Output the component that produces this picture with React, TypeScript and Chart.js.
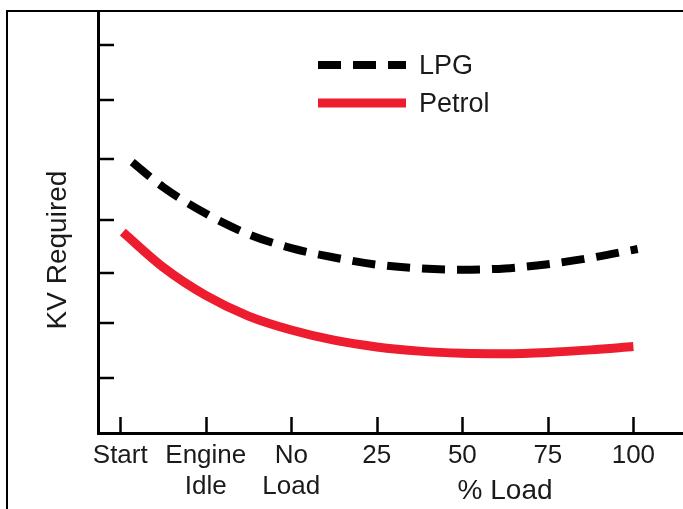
import React, { useEffect, useRef } from "react";
import { Chart, registerables } from "chart.js";

Chart.register(...registerables);

// ---- data ----
const xTickValues = [0, 1, 2, 3, 4, 5, 6];
const xTickLabels: (string | string[])[] = ["Start", ["Engine", "Idle"], ["No", "Load"], "25", "50", "75", "100"];
const yTickValues = [13, 26, 38, 50.5, 65, 79, 92];

const lpgX = [0.14, 0.5, 1.0, 1.5, 2.0, 2.5, 3.0, 3.5, 4.0, 4.5, 5.0, 5.5, 6.05];
const lpgY = [64.2, 58.3, 52.0, 47.1, 43.8, 41.6, 39.9, 39.0, 38.7, 39.0, 40.0, 41.5, 43.6];

const petrolX = [0.03, 0.5, 1.0, 1.5, 2.0, 2.5, 3.0, 3.5, 4.0, 4.5, 5.0, 5.5, 6.0];
const petrolY = [47.6, 39.3, 32.6, 27.7, 24.4, 22.0, 20.4, 19.4, 18.9, 18.8, 19.1, 19.7, 20.5];

const seriesNames = ["LPG", "Petrol"];
const xTitle = "% Load";
const yTitle = "KV Required";

const FONT = "'Liberation Sans', Arial, sans-serif";
const RED = "#ED1C2E";

const decorPlugin = {
  id: "decor",
  afterDraw(chart: any) {
    const { ctx, chartArea, scales } = chart;
    const xs = scales.x;
    const ys = scales.y;
    ctx.save();
    // inward tick marks
    ctx.strokeStyle = "#000";
    ctx.lineWidth = 2.5;
    xs.ticks.forEach((t: any) => {
      const px = Math.round(xs.getPixelForValue(t.value)) + 0.5;
      ctx.beginPath();
      ctx.moveTo(px, chartArea.bottom);
      ctx.lineTo(px, chartArea.bottom - 16);
      ctx.stroke();
    });
    ys.ticks.forEach((t: any) => {
      const py = Math.round(ys.getPixelForValue(t.value));
      ctx.beginPath();
      ctx.moveTo(chartArea.left, py);
      ctx.lineTo(chartArea.left + 16, py);
      ctx.stroke();
    });
    // axis titles
    ctx.fillStyle = "#1a1a1a";
    ctx.textAlign = "center";
    ctx.textBaseline = "middle";
    ctx.font = `28px ${FONT}`;
    ctx.fillText(xTitle, xs.getPixelForValue(4.5), 491);
    ctx.save();
    ctx.translate(58, 250);
    ctx.rotate(-Math.PI / 2);
    ctx.fillText(yTitle, 0, 0);
    ctx.restore();
    // legend
    ctx.lineCap = "butt";
    ctx.lineWidth = 8;
    ctx.strokeStyle = "#000";
    ctx.setLineDash([23, 12]);
    ctx.beginPath();
    ctx.moveTo(318, 65);
    ctx.lineTo(406, 65);
    ctx.stroke();
    ctx.setLineDash([]);
    ctx.strokeStyle = RED;
    ctx.lineWidth = 9;
    ctx.beginPath();
    ctx.moveTo(318, 103);
    ctx.lineTo(406, 103);
    ctx.stroke();
    ctx.textAlign = "left";
    ctx.fillStyle = "#1a1a1a";
    ctx.font = `27px ${FONT}`;
    ctx.fillText(seriesNames[0], 419, 67);
    ctx.fillText(seriesNames[1], 419, 105);
    ctx.restore();
  },
};

export default function App() {
  const ref = useRef<HTMLCanvasElement | null>(null);
  useEffect(() => {
    if (!ref.current) return;
    const chart = new Chart(ref.current, {
      type: "line",
      data: {
        datasets: [
          {
            label: seriesNames[0],
            data: lpgX.map((x, i) => ({ x, y: lpgY[i] })),
            borderColor: "#000",
            borderWidth: 8,
            borderDash: [23, 12],
            borderCapStyle: "butt",
            pointRadius: 0,
            cubicInterpolationMode: "monotone",
            fill: false,
          },
          {
            label: seriesNames[1],
            data: petrolX.map((x, i) => ({ x, y: petrolY[i] })),
            borderColor: RED,
            borderWidth: 9,
            borderCapStyle: "butt",
            pointRadius: 0,
            cubicInterpolationMode: "monotone",
            fill: false,
          },
        ],
      },
      options: {
        animation: false,
        responsive: false,
        devicePixelRatio: 1,
        layout: { padding: { top: 11, left: 0, right: 0, bottom: 0 } },
        plugins: { legend: { display: false }, tooltip: { enabled: false } },
        scales: {
          x: {
            type: "linear",
            min: -0.26,
            max: 6.58,
            afterBuildTicks: (s: any) => {
              s.ticks = xTickValues.map((v) => ({ value: v }));
            },
            afterFit: (s: any) => {
              s.height = 76;
            },
            ticks: {
              autoSkip: false,
              maxRotation: 0,
              padding: 7,
              color: "#1a1a1a",
              font: { family: FONT, size: 26, lineHeight: 1.2 },
              callback: (v: any) => {
                const i = xTickValues.indexOf(Number(v));
                return i >= 0 ? xTickLabels[i] : "";
              },
            },
            grid: { display: false, drawTicks: false },
            border: { display: true, color: "#000", width: 3 },
          },
          y: {
            type: "linear",
            min: 0,
            max: 100,
            afterBuildTicks: (s: any) => {
              s.ticks = yTickValues.map((v) => ({ value: v }));
            },
            afterFit: (s: any) => {
              s.width = 98;
            },
            ticks: { display: false },
            grid: { display: false, drawTicks: false },
            border: { display: true, color: "#000", width: 3 },
          },
        },
      },
      plugins: [decorPlugin],
    } as any);
    return () => chart.destroy();
  }, []);

  return (
    <div style={{ position: "fixed", left: 0, top: 0, width: 683, height: 509, background: "#fff" }}>
      <div
        style={{
          position: "absolute",
          left: 6,
          top: 10,
          right: 0,
          bottom: 0,
          borderLeft: "2px solid #000",
          borderTop: "2px solid #000",
        }}
      />
      <canvas
        ref={ref}
        width={683}
        height={509}
        style={{ position: "absolute", left: 0, top: 0, width: 683, height: 509 }}
      />
    </div>
  );
}
